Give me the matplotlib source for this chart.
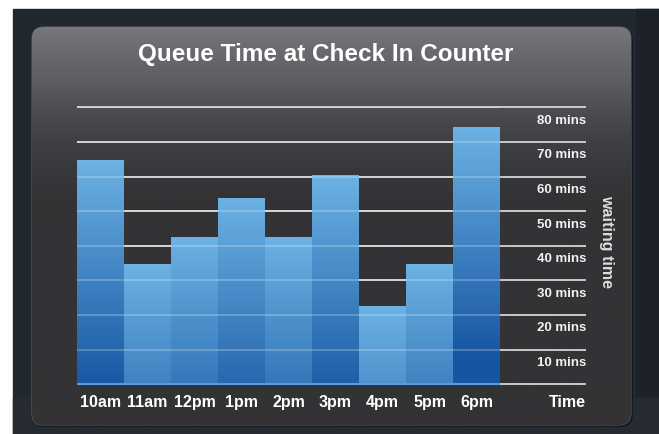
import numpy as np
import matplotlib
matplotlib.use("Agg")
import matplotlib.pyplot as plt
from matplotlib.patches import FancyBboxPatch, Rectangle

plt.rcParams['font.family'] = ['Liberation Sans', 'DejaVu Sans']

# data
hours = ["10am", "11am", "12pm", "1pm", "2pm", "3pm", "4pm", "5pm", "6pm"]
wait_mins = [64.5, 34.5, 42.3, 53.5, 42.3, 60.2, 22.3, 34.5, 74]
grid_mins = [10, 20, 30, 40, 50, 60, 70, 80]
grid_labels = ["10 mins", "20 mins", "30 mins", "40 mins",
               "50 mins", "60 mins", "70 mins", "80 mins"]

W, H = 659, 434
fig = plt.figure(figsize=(W / 100, H / 100), dpi=100)
fig.patch.set_facecolor("white")

# background layer in pixel coordinates
bg = fig.add_axes([0, 0, 1, 1], zorder=0)
bg.set_xlim(0, W)
bg.set_ylim(H, 0)
bg.axis("off")
bg.add_patch(Rectangle((13, 9), W - 13, H - 9, color="#222830", zorder=0))
bg.add_patch(Rectangle((636, 9), W - 636, 389, color="#1d222a", zorder=0))
bg.add_patch(Rectangle((13, 398), W - 13, H - 398, color="#262b32", zorder=0))

# shadow + panel with vertical gradient
shadow = FancyBboxPatch((33, 29), 600, 398, boxstyle="round,pad=0,rounding_size=13",
                        facecolor="#14171b", edgecolor="none", zorder=1)
bg.add_patch(shadow)
panel = FancyBboxPatch((32, 27), 599, 398, boxstyle="round,pad=0,rounding_size=12",
                       facecolor="#333336", edgecolor="#5a5c60", lw=0.8, zorder=2)
bg.add_patch(panel)

ys = np.linspace(27, 425, 400)
stops_y = [27, 45, 80, 110, 140, 170, 200, 425]
stops_c = np.array([[0x76, 0x78, 0x7c], [0x6b, 0x6d, 0x71], [0x5c, 0x5e, 0x62],
                    [0x4b, 0x4d, 0x51], [0x3f, 0x40, 0x44], [0x37, 0x38, 0x3b],
                    [0x33, 0x33, 0x36], [0x33, 0x33, 0x36]]) / 255
grad = np.stack([np.interp(ys, stops_y, stops_c[:, k]) for k in range(3)], axis=1)
img = bg.imshow(grad[:, None, :], extent=[32, 631, 425, 27], aspect="auto",
                interpolation="bilinear", zorder=3)
img.set_clip_path(panel)

fig.text(325.5 / W, 1 - 55 / H, "Queue Time at Check In Counter", color="white",
         fontsize=17.5, fontweight="bold", ha="center", va="center", zorder=10)

# chart axes
ax = fig.add_axes([77 / W, 1 - 384.3 / H, 509 / W, 277 / H], zorder=5)
ax.patch.set_visible(False)
for s in ax.spines.values():
    s.set_visible(False)
ax.set_xticks([])
ax.set_yticks([])

# gridlines behind bars
ax.hlines([0] + grid_mins, 0, 509 / 47, colors="#d4d4d4", lw=1.3, zorder=1, clip_on=False)

top_c = np.array([0x6c, 0xb2, 0xe3]) / 255
bot_c = np.array([0x16, 0x56, 0xa2]) / 255
ny = 256
for i, h in enumerate(wait_mins):
    depth = h * (1 - np.linspace(0, 1, ny))
    t = np.clip(depth / 66, 0, 1)[:, None]
    col = top_c + (bot_c - top_c) * t
    ax.imshow(col[:, None, :], extent=[i, i + 1, 0, h], origin="lower",
              aspect="auto", interpolation="bilinear", zorder=2)

# gridlines seen through the bars
n = len(wait_mins)
for v in grid_mins:
    ax.hlines(v, 0, n, colors="white", lw=1.3, alpha=0.25, zorder=3)
ax.hlines(0, 0, n, colors="#4f9de3", lw=1.5, zorder=3, clip_on=False)
ax.set_xlim(0, 509 / 47)
ax.set_ylim(0, 80)

for v, lab in zip(grid_mins, grid_labels):
    ax.text(509 / 47, v - 3.85, lab, color="#f2f2f2", fontsize=9.5,
            fontweight="bold", ha="right", va="center", zorder=6)

for i, lab in enumerate(hours):
    ax.text(i + 0.5, -5.2, lab, color="white", fontsize=11.5, fontweight="bold",
            ha="center", va="center", clip_on=False)
ax.text(509 / 47, -5.2, "Time", color="white", fontsize=11.5, fontweight="bold",
        ha="right", va="center", clip_on=False)

fig.text(607 / W, 1 - 241.5 / H, "waiting time", color="#dcdcdc", fontsize=11.5,
         fontweight="bold", rotation=-90, ha="center", va="center", zorder=10)

fig.savefig("out.png", dpi=100)
